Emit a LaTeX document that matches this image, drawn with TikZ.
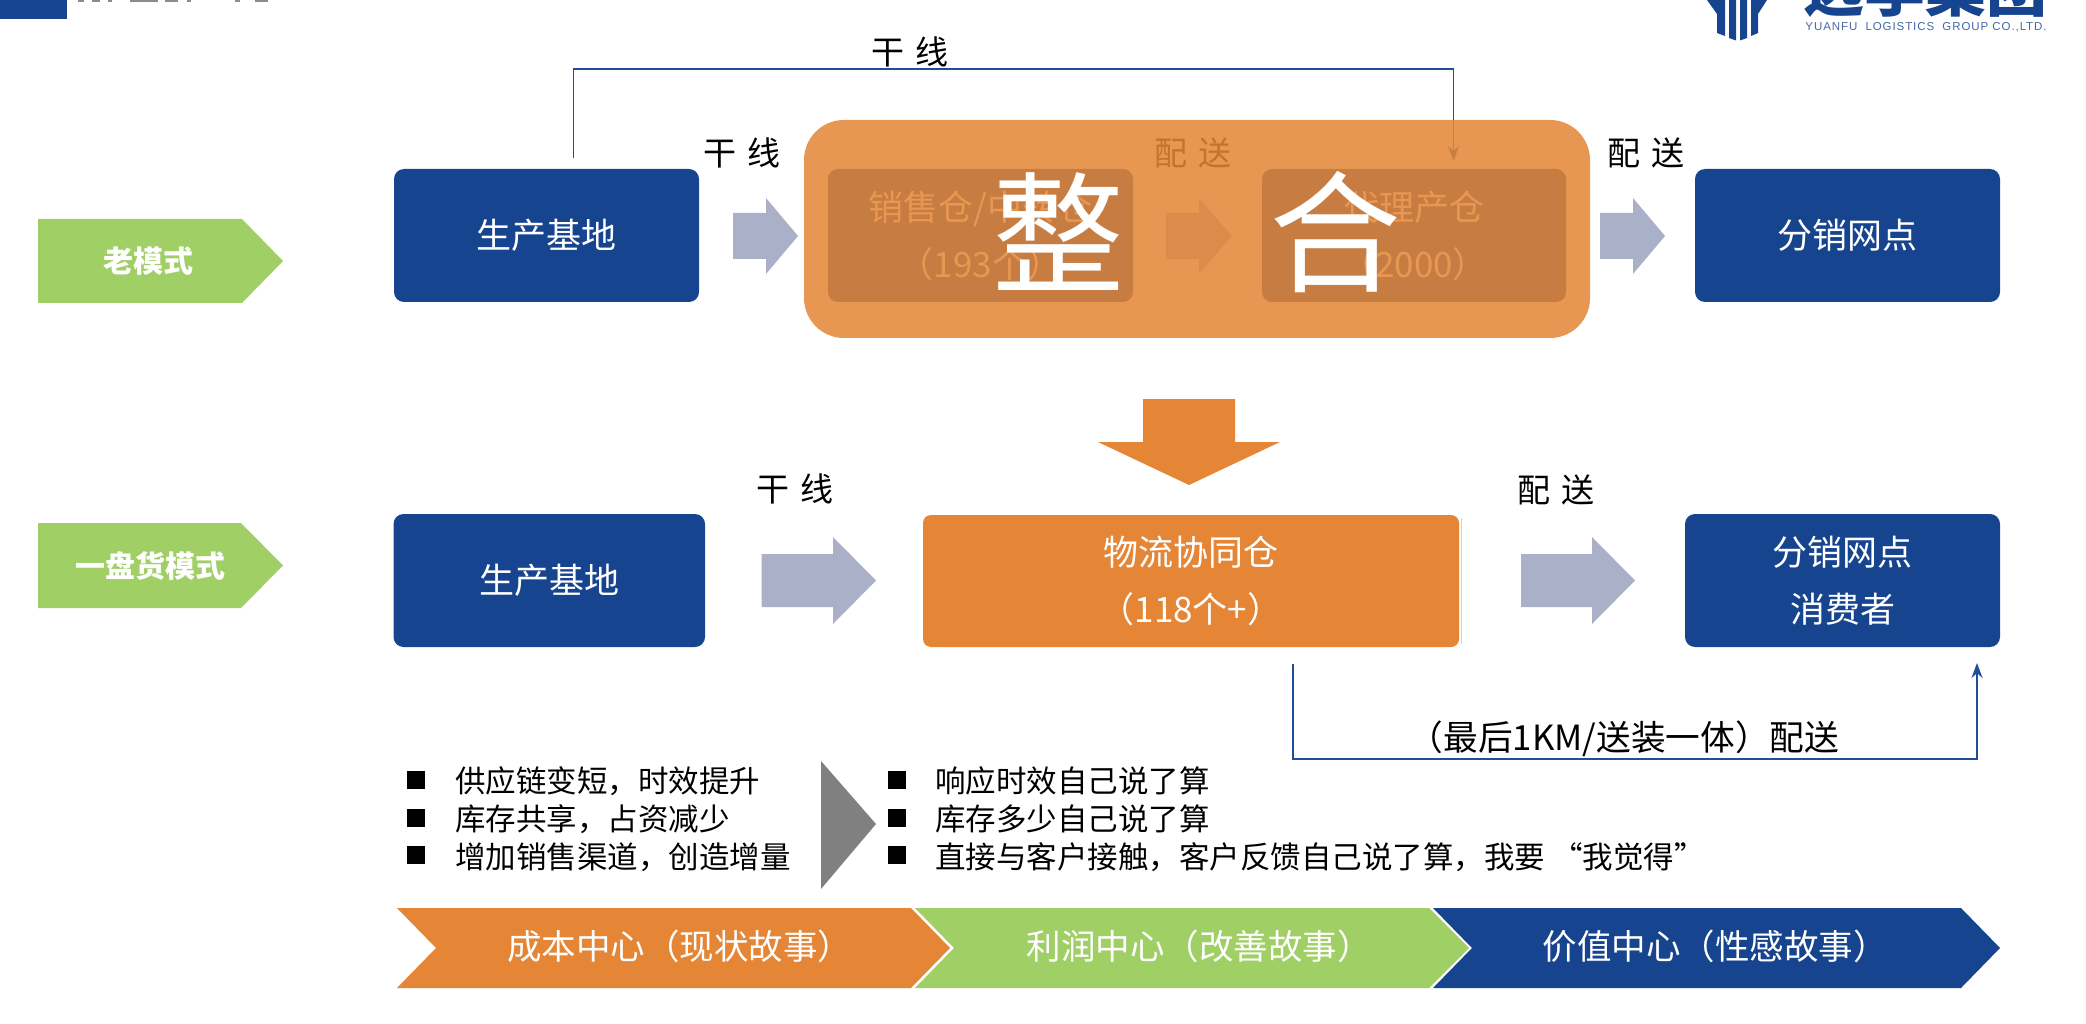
\documentclass[tikz,border=0pt]{standalone}
\usepackage{fontspec}
\usepackage{graphicx}
\setmainfont{Noto Sans CJK SC}
\newfontfamily\latinlogo[LetterSpace=8]{Liberation Sans}
\usetikzlibrary{arrows.meta}
\definecolor{cblue}{HTML}{17448F}
\definecolor{cgreen}{HTML}{A0CF66}
\definecolor{corange}{HTML}{E48636}
\definecolor{carrow}{HTML}{ABB0C9}
\definecolor{cline}{HTML}{1F4E9C}
\newcommand{\gp}{\hspace{.36em}}
\tikzset{
  x=1pt,y=-1pt,
  bluebox/.style={fill=cblue,rounded corners=10pt,inner sep=0pt,text=white,align=center,font=\fontsize{35}{57}\selectfont},
  orangebox/.style={fill=corange,rounded corners=8pt,inner sep=0pt,text=white,align=center,font=\fontsize{35}{57}\selectfont},
  lab/.style={inner sep=0pt,text=black,font=\fontsize{33}{40}\selectfont},
  bigch/.style={inner sep=0pt,text=white,font=\fontsize{132}{134}\selectfont},
  tagtext/.style={inner sep=0pt,text=white,font=\fontsize{30}{36}\selectfont\bfseries},
  chevtext/.style={inner sep=0pt,text=white,font=\fontsize{34.5}{40}\selectfont},
  listtext/.style={inner sep=0pt,anchor=west,text=black,font=\fontsize{30.5}{36}\selectfont},
  sq/.style={fill=black,inner sep=0pt,minimum width=18pt,minimum height=18pt},
  conn/.style={draw=cline,line width=1.6pt},
  connarrow/.style={conn,-{Stealth[length=15pt,width=11pt]}},
}
% x1, head base x, tip x, centre y, half shaft, half head
\newcommand{\barrow}[7][carrow]{\fill[#1] (#2,#5-#6) -- (#3,#5-#6) -- (#3,#5-#7) -- (#4,#5) -- (#3,#5+#7) -- (#3,#5+#6) -- (#2,#5+#6) -- cycle;}
\begin{document}
\begin{tikzpicture}
\useasboundingbox (0,0) rectangle (2086,1024);
\fill[white] (0,0) rectangle (2086,1024);

% header fragments
\fill[cblue] (0,0) rectangle (67,19);
\foreach \a/\b in {78/84,92/100,108/112,130/158,165/178,187/191,235/240,255/268}
  \fill[black!45] (\a,0) rectangle (\b,1.6);

% logo
\begin{scope}[cblue]
  \fill (1707,0) -- (1717,14) -- (1717,33) -- (1725,36) -- (1725,0) -- cycle;
  \fill (1729,0) -- (1729,38) -- (1736,40.5) -- (1736,0) -- cycle;
  \fill (1740,0) -- (1740,40.5) -- (1747,38) -- (1747,0) -- cycle;
  \fill (1751,0) -- (1751,36) -- (1758,33) -- (1758,14) -- (1767,0) -- cycle;
\end{scope}
\node (logoname) [inner sep=0pt,anchor=south,text=cblue,font=\fontsize{61}{61}\selectfont\bfseries] at (1925,17.5) {远孚集团};
\node (logosub) [inner sep=0pt,text=cblue!80,font=\latinlogo\fontsize{11.5}{12}\selectfont] at (1926,27) {YUANFU\ \ LOGISTICS\ \ GROUP CO.,LTD.};

% tags
\fill[cgreen] (38,219) -- (242,219) -- (283,261) -- (242,303) -- (38,303) -- cycle;
\node (tagold) [tagtext] at (148,261) {老模式};
\fill[cgreen] (38,523) -- (241,523) -- (283,565.5) -- (241,608) -- (38,608) -- cycle;
\node (tagnew) [tagtext] at (150,566) {一盘货模式};

% old row
\node (baseA) [bluebox,minimum width=305pt,minimum height=133pt] at (546.5,235.5) {\raisebox{1.5pt}{生产基地}};
\node (salewh) [bluebox,minimum width=305pt,minimum height=133pt] at (980.5,235.5) {销售仓/中转仓\\（193个）};
\node (agentwh) [bluebox,minimum width=304pt,minimum height=133pt] at (1414,235.5) {代理产仓\\（2000）};
\node (netA) [bluebox,minimum width=305pt,minimum height=133pt] at (1847.5,235.5) {\raisebox{1.5pt}{分销网点}};
\barrow{733}{766}{798}{236}{23}{38}
\barrow{1166}{1199}{1232}{236}{23}{38}
\barrow{1600}{1633}{1665}{236}{23}{38}
\node (l1) [lab] at (742,153) {干\gp 线};
\node (l2) [lab] at (1193,153) {配\gp 送};
\node (l3) [lab] at (1646,153) {配\gp 送};
\coordinate (topS) at (573.5,158);
\coordinate (topE) at (1453.5,161);
\coordinate (topY) at (1000,69);
\draw[connarrow] (topS) |- (topY) -| (topE);
\node (l4) [lab] at (910,52) {干\gp 线};

% merge overlay
\fill[corange,opacity=.86,rounded corners=40pt] (804,120) rectangle (1590,338);
\node (zheng) [bigch] at (1058,232) {整};
\node (he) [bigch] at (1335,232) {合};

% down arrow
\fill[corange] (1143,399) -- (1235,399) -- (1235,442) -- (1280,442) -- (1189,485) -- (1098,442) -- (1143,442) -- cycle;

% new row
\node (baseB) [bluebox,minimum width=311.5pt,minimum height=133pt] at (549.25,580.5) {\raisebox{3pt}{生产基地}};
\draw[corange!45,line width=1pt] (1461,518) -- (1461,644);
\node (hub) [orangebox,minimum width=536pt,minimum height=132pt] at (1191,581) {物流协同仓\\（118个+）};
\node (netB) [bluebox,minimum width=315pt,minimum height=133pt] at (1842.5,580.5) {分销网点\\消费者};
\barrow{761.5}{833}{876}{580.5}{26.5}{43.5}
\barrow{1521}{1592}{1635}{580.5}{26.5}{43.5}
\node (l5) [lab] at (795,489) {干\gp 线};
\node (l6) [lab] at (1556,490) {配\gp 送};
\coordinate (botS) at (1293,664);
\coordinate (botE) at (1977,663);
\coordinate (botY) at (1600,759);
\draw[connarrow] (botS) |- (botY) -| (botE);
\node (l7) [lab,font=\fontsize{34.7}{40}\selectfont] at (1624,739) {（最后1KM/送装一体）配送};

% lists
\node (b1) [sq] at (416,780) {};
\node (b2) [sq] at (416,818) {};
\node (b3) [sq] at (416,855) {};
\node (t1) [listtext] at (455,781) {供应链变短，时效提升};
\node (t2) [listtext] at (455,819) {库存共享，占资减少};
\node (t3) [listtext] at (455,857) {增加销售渠道，创造增量};
\fill[black!50] (821,761) -- (876,824) -- (821,889) -- cycle;
\node (b4) [sq] at (897,780) {};
\node (b5) [sq] at (897,818) {};
\node (b6) [sq] at (897,855) {};
\node (t4) [listtext] at (935,781) {响应时效自己说了算};
\node (t5) [listtext] at (935,819) {库存多少自己说了算};
\node (t6) [listtext] at (935,857) {直接与客户接触，客户反馈自己说了算，我要 “我觉得”};

% chevrons
\fill[corange] (397,908) -- (911,908) -- (950,948) -- (911,988) -- (397,988) -- (436,948) -- cycle;
\fill[cgreen] (915,908) -- (1429,908) -- (1469,948) -- (1429,988) -- (915,988) -- (954,948) -- cycle;
\fill[cblue] (1433,908) -- (1961,908) -- (2000,948) -- (1961,988) -- (1433,988) -- (1472,948) -- cycle;
\node (c1) [chevtext] at (679.5,946) {成本中心（现状故事）};
\node (c2) [chevtext] at (1199,946) {利润中心（改善故事）};
\node (c3) [chevtext] at (1715,946) {价值中心（性感故事）};
\end{tikzpicture}
\end{document}
